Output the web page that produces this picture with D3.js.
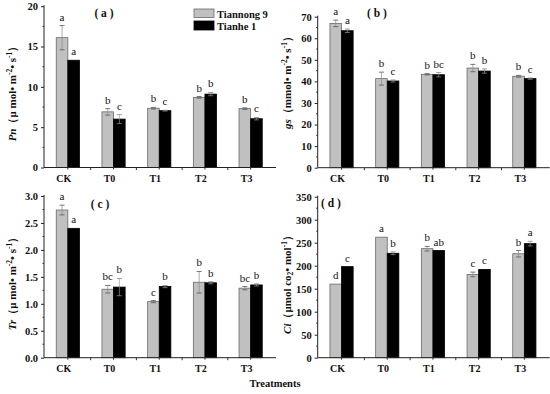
<!DOCTYPE html>
<html><head><meta charset="utf-8">
<script src="https://cdn.jsdelivr.net/npm/d3@7"></script>
<style>
body{margin:0;background:#fff;}
svg text{font-family:"Liberation Serif","Times New Roman",serif;}
</style></head>
<body><svg id="c" width="550" height="394"></svg>
<script>
const categories = ["CK","T0","T1","T2","T3"];
const seriesNames = ["Tiannong 9","Tianhe 1"];

const pnTiannong = [16.1, 6.9, 7.35, 8.7, 7.3];
const pnTianhe   = [13.3, 6.0, 7.05, 9.1, 6.05];
const pnErrTiannong = [1.5, 0.4, 0.1, 0.1, 0.1];
const pnErrTianhe   = [0, 0.55, 0.05, 0.2, 0.15];
const pnLettersTiannong = ["a","b","b","b","b"];
const pnLettersTianhe   = ["a","c","c","b","c"];

const gsTiannong = [66.9, 41.3, 43.3, 46.2, 42.4];
const gsTianhe   = [63.5, 40.2, 43.1, 44.8, 41.3];
const gsErrTiannong = [1.5, 3.0, 0.3, 1.7, 0.4];
const gsErrTianhe   = [0.8, 0.5, 1.0, 1.0, 0.3];
const gsLettersTiannong = ["a","b","b","b","b"];
const gsLettersTianhe   = ["a","c","bc","b","c"];

const trTiannong = [2.74, 1.27, 1.04, 1.40, 1.29];
const trTianhe   = [2.40, 1.31, 1.32, 1.39, 1.35];
const trErrTiannong = [0.09, 0.07, 0.02, 0.2, 0.03];
const trErrTianhe   = [0, 0.16, 0.02, 0.02, 0.02];
const trLettersTiannong = ["a","bc","c","b","bc"];
const trLettersTianhe   = ["a","b","b","b","b"];

const ciTiannong = [160, 262, 237, 181, 226];
const ciTianhe   = [198, 227, 233, 192, 248];
const ciErrTiannong = [0, 0, 5, 5, 7];
const ciErrTianhe   = [0, 3, 0, 0, 5];
const ciLettersTiannong = ["d","a","b","c","b"];
const ciLettersTianhe   = ["c","b","ab","c","a"];

const pnTicks = [0,5,10,15,20];
const gsTicks = [0,10,20,30,40,50,60,70];
const trTicks = [0,0.5,1.0,1.5,2.0,2.5,3.0];
const ciTicks = [0,50,100,150,200,250,300,350];

const svg = d3.select("#c");
const colors = ["#c0c0c0","#000000"];

function panel(o){
  const g = svg.append("g");
  const x = d3.scaleBand().domain(categories).range([o.ax+1, o.ax+229.5]);
  const x1 = d3.scaleBand().domain(seriesNames).range([0, 23.2]);
  const y = d3.scaleLinear().domain(o.domain).range([o.y0, o.yTop]);
  const off = (x.bandwidth()-x1.range()[1])/2;

  const series = [o.a, o.b], errs = [o.ea, o.eb], lets = [o.la, o.lb];
  series.forEach((vals, s) => {
    categories.forEach((c, i) => {
      const bx = x(c) + off + x1(seriesNames[s]);
      g.append("rect").attr("x", bx).attr("y", y(vals[i]))
        .attr("width", x1.bandwidth()).attr("height", y(0)-y(vals[i]))
        .attr("fill", colors[s]).attr("stroke", s===0 ? "#6a6a6a" : "#000").attr("stroke-width", 0.8);
      const cx = bx + x1.bandwidth()/2;
      const e = errs[s][i];
      if (e > 0) {
        g.append("line").attr("x1", cx).attr("x2", cx).attr("y1", y(vals[i]-e)).attr("y2", y(vals[i]+e))
          .attr("stroke", s===0 ? "#8a8a8a" : "#999").attr("stroke-width", 0.7);
        [vals[i]-e, vals[i]+e].forEach(v => {
          g.append("line").attr("x1", cx-2.5).attr("x2", cx+2.5).attr("y1", y(v)).attr("y2", y(v))
            .attr("stroke", s===0 ? "#555" : "#888").attr("stroke-width", 0.8);
        });
      }
      g.append("text").attr("x", cx).attr("y", y(vals[i]+e) - 5)
        .attr("text-anchor","middle").attr("font-size", 11).attr("fill","#111").text(lets[s][i]);
    });
  });

  const yAxis = d3.axisLeft(y).tickValues(o.ticks).tickSize(3).tickPadding(3).tickFormat(o.fmt);
  const ya = g.append("g").attr("transform", `translate(${o.ax},0)`).call(yAxis);
  ya.select(".domain").remove();
  ya.selectAll("text").attr("font-size", 10.5).attr("font-weight","bold").attr("fill","#111")
    .style("font-family",'"Liberation Serif",serif');
  ya.selectAll("line").attr("stroke","#222");
  for (let k = 0; k < o.ticks.length-1; k++) {
    const m = (o.ticks[k]+o.ticks[k+1])/2;
    g.append("line").attr("x1", o.ax-1.5).attr("x2", o.ax).attr("y1", y(m)).attr("y2", y(m)).attr("stroke","#333");
  }
  g.append("line").attr("x1", o.ax).attr("x2", o.ax).attr("y1", y(0)).attr("y2", o.yTop-1)
    .attr("stroke","#222").attr("stroke-width",1);

  g.append("line").attr("x1", o.ax).attr("x2", o.ax+232).attr("y1", y(0)).attr("y2", y(0))
    .attr("stroke","#222").attr("stroke-width",1);
  categories.forEach((c,i) => {
    if (i>0) g.append("line").attr("x1", x(c)).attr("x2", x(c)).attr("y1", y(0)).attr("y2", y(0)+2.5).attr("stroke","#333");
    g.append("line").attr("x1", x(c)+x.bandwidth()/2).attr("x2", x(c)+x.bandwidth()/2)
      .attr("y1", y(0)).attr("y2", y(0)+2).attr("stroke","#333");
    g.append("text").attr("x", x(c)+x.bandwidth()/2 - 4).attr("y", y(0)+14)
      .attr("text-anchor","middle").attr("font-size", 10).attr("font-weight","bold").attr("fill","#111").text(c);
  });

  g.append("text").attr("x", o.tx).attr("y", o.ty).attr("text-anchor","middle")
    .attr("font-size", 11.5).attr("font-weight","bold").attr("fill","#111").text(o.title);

  const yl = g.append("text").attr("transform", `translate(${o.lx},${o.ly}) rotate(-90)`)
    .attr("text-anchor","middle").attr("dominant-baseline","central")
    .attr("font-size", 11).attr("font-weight","bold").attr("fill","#111");
  o.label(yl);
}

function unitLabel(sym, rest) {
  return t => {
    t.append("tspan").attr("font-style","italic").text(sym);
    rest.forEach(r => {
      const ts = t.append("tspan").text(r.t);
      if (r.sup) ts.attr("font-size", r.small ? 7.5 : null).attr("dy", r.sup);
      if (r.small) ts.attr("font-size", 7.5);
    });
  };
}

panel({ax:44, y0:167.5, yTop:6.2, domain:[0,20], ticks:pnTicks, fmt:d3.format("d"),
  a:pnTiannong, b:pnTianhe, ea:pnErrTiannong, eb:pnErrTianhe, la:pnLettersTiannong, lb:pnLettersTianhe,
  title:"( a )", tx:104, ty:17, lx:12, ly:91,
  label: unitLabel("Pn", [{t:"（μ mol• m"},{t:"-2",sup:-3,small:1},{t:"• s",sup:3},{t:"-1",sup:-3,small:1},{t:"）",sup:3}])});

panel({ax:317.7, y0:167.7, yTop:16.7, domain:[0,70], ticks:gsTicks, fmt:d3.format("d"),
  a:gsTiannong, b:gsTianhe, ea:gsErrTiannong, eb:gsErrTianhe, la:gsLettersTiannong, lb:gsLettersTianhe,
  title:"( b )", tx:377, ty:17, lx:287, ly:80,
  label: unitLabel("gs", [{t:"（mmol• m"},{t:"-2",sup:-3,small:1},{t:"• s",sup:3},{t:"-1",sup:-3,small:1},{t:"）",sup:3}])});

panel({ax:44, y0:357.7, yTop:196, domain:[0,3], ticks:trTicks, fmt:d3.format(".1f"),
  a:trTiannong, b:trTianhe, ea:trErrTiannong, eb:trErrTianhe, la:trLettersTiannong, lb:trLettersTianhe,
  title:"( c )", tx:100, ty:208, lx:12, ly:281,
  label: unitLabel("Tr", [{t:"（μ mol• m"},{t:"-2",sup:-3,small:1},{t:"• s",sup:3},{t:"-1",sup:-3,small:1},{t:"）",sup:3}])});

panel({ax:317.7, y0:357.7, yTop:196.7, domain:[0,350], ticks:ciTicks, fmt:d3.format("d"),
  a:ciTiannong, b:ciTianhe, ea:ciErrTiannong, eb:ciErrTianhe, la:ciLettersTiannong, lb:ciLettersTianhe,
  title:"( d )", tx:331, ty:207, lx:287, ly:282,
  label: unitLabel("Ci", [{t:"（μmol co"},{t:"2",sup:3,small:1},{t:"• mol",sup:-3},{t:"-1",sup:-3,small:1},{t:"）",sup:3}])});

const lg = svg.append("g");
seriesNames.forEach((n,i) => {
  lg.append("rect").attr("x",194).attr("y", 9 + i*12).attr("width",20).attr("height", i===0?8.5:9)
    .attr("fill", colors[i]).attr("stroke", i===0?"#6a6a6a":"#000").attr("stroke-width",0.8);
  lg.append("text").attr("x",217).attr("y", 17.5 + i*12).attr("font-size",10.5).attr("font-weight","bold")
    .attr("fill","#111").text(n);
});

svg.append("text").attr("x",275).attr("y",387).attr("text-anchor","middle")
  .attr("font-size",10.5).attr("font-weight","bold").attr("fill","#111").text("Treatments");
</script></body></html>
